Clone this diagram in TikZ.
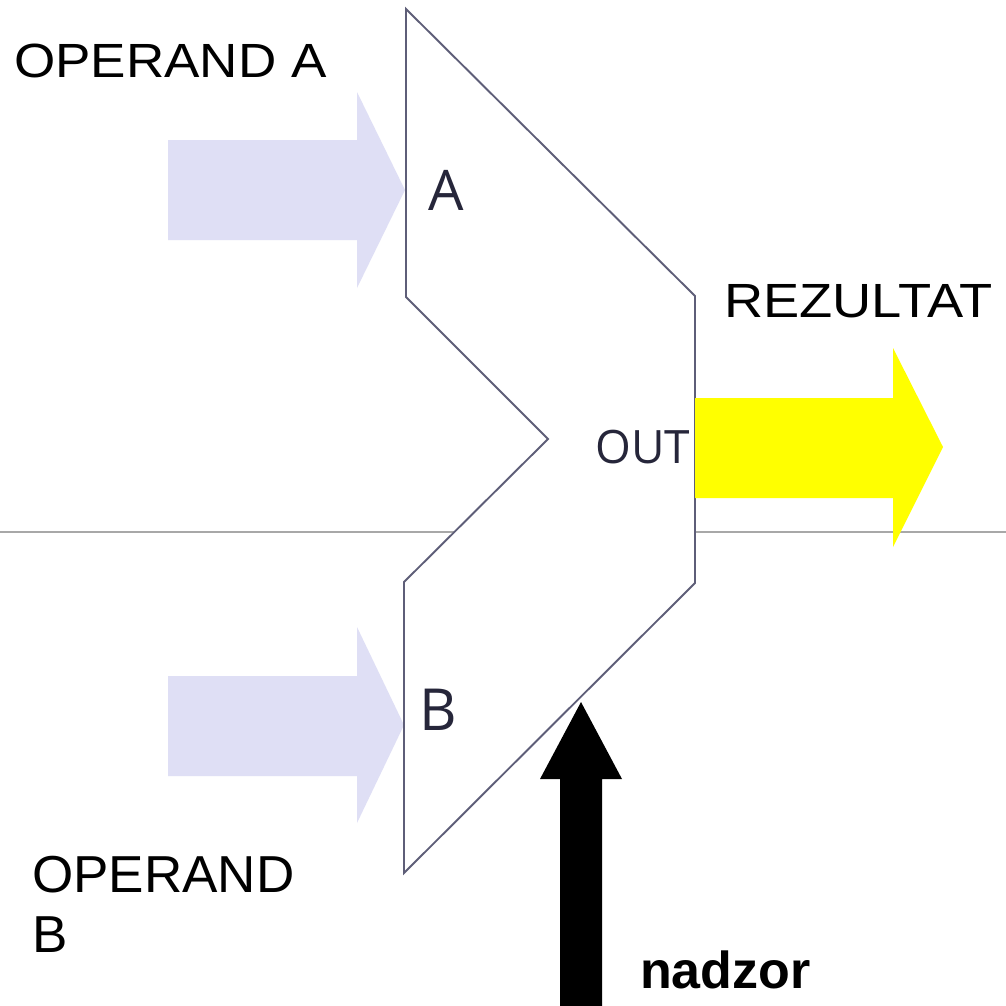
\documentclass[tikz,border=0pt]{standalone}
\usepackage{fontspec}
\setmainfont{Liberation Sans}
\newfontfamily\osans{Open Sans}
\definecolor{lav}{HTML}{DFDFF5}
\definecolor{aluline}{HTML}{5E5E78}
\definecolor{guide}{HTML}{A8A8A8}
\definecolor{yel}{HTML}{FFFF00}
\definecolor{intext}{HTML}{26263A}
\tikzset{
  label/.style={anchor=base west, inner sep=0pt, font=\fontsize{48}{58}\selectfont},
  portlabel/.style={anchor=base west, inner sep=0pt, text=intext},
}
\begin{document}
\begin{tikzpicture}[x=1pt,y=-1pt]
\useasboundingbox[fill=white] (0,0) rectangle (1006,1005);
% guide line
\draw[guide, line width=1.3pt] (0,532) -- (1006,532);
% input arrows
\fill[lav] (168,140) -- (357,140) -- (357,92) -- (405,190) -- (357,288) -- (357,240) -- (168,240) -- cycle;
\fill[lav] (168,676) -- (357,676) -- (357,627) -- (404,725) -- (357,823) -- (357,776) -- (168,776) -- cycle;
% ALU body
\draw[aluline, fill=white, line width=1.9pt, line join=miter]
  (406,9) -- (406,297) -- (548,439) -- (404,582) -- (404,873) -- (695,583) -- (695,296) -- cycle;
% output arrow
\fill[yel] (695,398) -- (893,398) -- (893,348) -- (943,447) -- (893,547) -- (893,498) -- (695,498) -- cycle;
% control arrow
\fill[black] (560,1006) -- (560,779) -- (540,779) -- (581,702) -- (622,779) -- (602,779) -- (602,1006) -- cycle;
% labels
\node[label, xscale=1.105] (opa) at (14,77) {OPERAND A};
\node[label, xscale=1.13] (rez) at (724,317) {REZULTAT};
\node[label, xscale=1.02, font=\fontsize{52}{60}\selectfont] (opb1) at (32,892) {OPERAND};
\node[label, xscale=1.02, font=\fontsize{52}{60}\selectfont] (opb2) at (32,952) {B};
\node[label, font=\fontsize{52}{60}\selectfont\bfseries] (nad) at (640,988) {nadzor};
\node[portlabel, font=\osans\fontsize{56}{60}\selectfont] (pa) at (428,210) {A};
\node[portlabel, font=\osans\fontsize{58}{60}\selectfont] (pb) at (419,730) {B};
\node[portlabel, font=\osans\fontsize{46}{50}\selectfont] (pout) at (595,463) {OUT};
\end{tikzpicture}
\end{document}
